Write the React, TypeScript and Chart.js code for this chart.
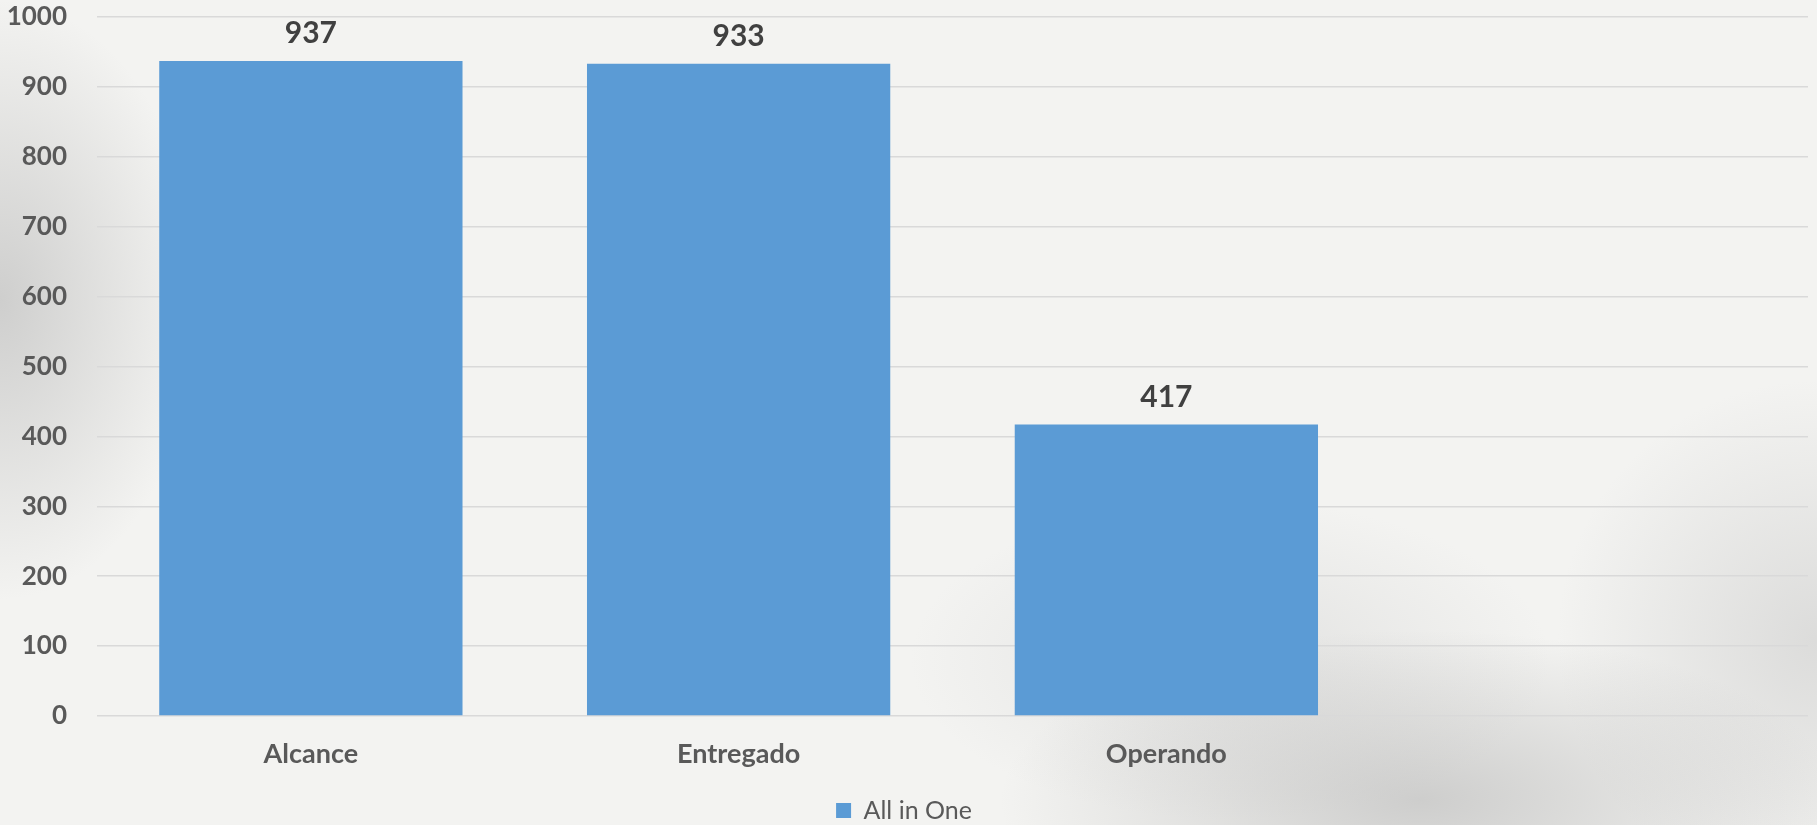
import React, { useEffect, useRef } from "react";
import { Chart, registerables } from "chart.js";

Chart.register(...registerables);

const categories = ["Alcance", "Entregado", "Operando", ""];
const seriesName = "All in One";
const seriesValues: (number | null)[] = [937, 933, 417, null];
const yTicks = [0, 100, 200, 300, 400, 500, 600, 700, 800, 900, 1000];

const FONT = "Lato, 'Open Sans', sans-serif";

const valueLabels = {
  id: "valueLabels",
  afterDatasetsDraw(chart: any) {
    const ctx = chart.ctx;
    const meta = chart.getDatasetMeta(0);
    ctx.save();
    ctx.font = `bold 30px ${FONT}`;
    ctx.fillStyle = "#404040";
    ctx.textAlign = "center";
    ctx.textBaseline = "alphabetic";
    meta.data.forEach((el: any, i: number) => {
      const v = seriesValues[i];
      if (v == null) return;
      ctx.fillText(String(v), el.x, el.y - 18);
    });
    ctx.restore();
  },
};

export default function App() {
  const ref = useRef<HTMLCanvasElement | null>(null);
  useEffect(() => {
    document.body.style.margin = "0";
    const chart = new Chart(ref.current as HTMLCanvasElement, {
      type: "bar",
      data: {
        labels: categories,
        datasets: [
          {
            label: seriesName,
            data: seriesValues,
            backgroundColor: "#5b9bd5",
            borderWidth: 0,
            categoryPercentage: 1,
            barPercentage: 0.709,
          },
        ],
      },
      options: {
        animation: false,
        responsive: false,
        maintainAspectRatio: false,
        layout: { padding: { top: 17, right: 9, left: 0, bottom: -8 } },
        plugins: {
          tooltip: { enabled: false },
          legend: {
            position: "bottom",
            labels: {
              boxWidth: 15,
              boxHeight: 15,
              padding: 0,
              color: "#595959",
              font: { family: FONT, size: 25 },
            },
          },
        },
        scales: {
          x: {
            grid: { display: false },
            border: { display: false },
            ticks: {
              padding: 14,
              color: "#595959",
              font: { family: FONT, size: 27, weight: "bold" },
            },
            afterFit(scale: any) {
              scale.height = 82;
            },
          },
          y: {
            min: 0,
            max: 1000,
            afterBuildTicks(scale: any) {
              scale.ticks = yTicks.map((v) => ({ value: v }));
            },
            grid: { color: "#d9d9d9", lineWidth: 1.5, drawTicks: false },
            border: { display: false },
            ticks: {
              padding: 30,
              color: "#595959",
              font: { family: FONT, size: 26, weight: "bold" },
              callback: (v: any) => String(v),
            },
            afterFit(scale: any) {
              scale.width = 97;
              scale.paddingTop = 0;
              scale.paddingBottom = 0;
            },
          },
        },
      },
      plugins: [valueLabels],
    });
    return () => chart.destroy();
  }, []);

  return (
    <div
      style={{
        position: "fixed",
        left: 0,
        top: 0,
        width: 1817,
        height: 825,
        background: [
          "radial-gradient(ellipse 200px 300px at 0px 300px, rgba(170,170,170,0.5), rgba(170,170,170,0) 100%)",
          "radial-gradient(ellipse 420px 170px at 1420px 800px, rgba(160,160,160,0.45), rgba(160,160,160,0) 100%)",
          "radial-gradient(ellipse 260px 260px at 1817px 640px, rgba(185,185,185,0.4), rgba(185,185,185,0) 100%)",
          "radial-gradient(ellipse 320px 160px at 1230px 660px, rgba(195,195,195,0.35), rgba(195,195,195,0) 100%)",
          "#f3f3f1",
        ].join(", "),
      }}
    >
      <canvas ref={ref} width={1817} height={825} style={{ display: "block" }} />
    </div>
  );
}
